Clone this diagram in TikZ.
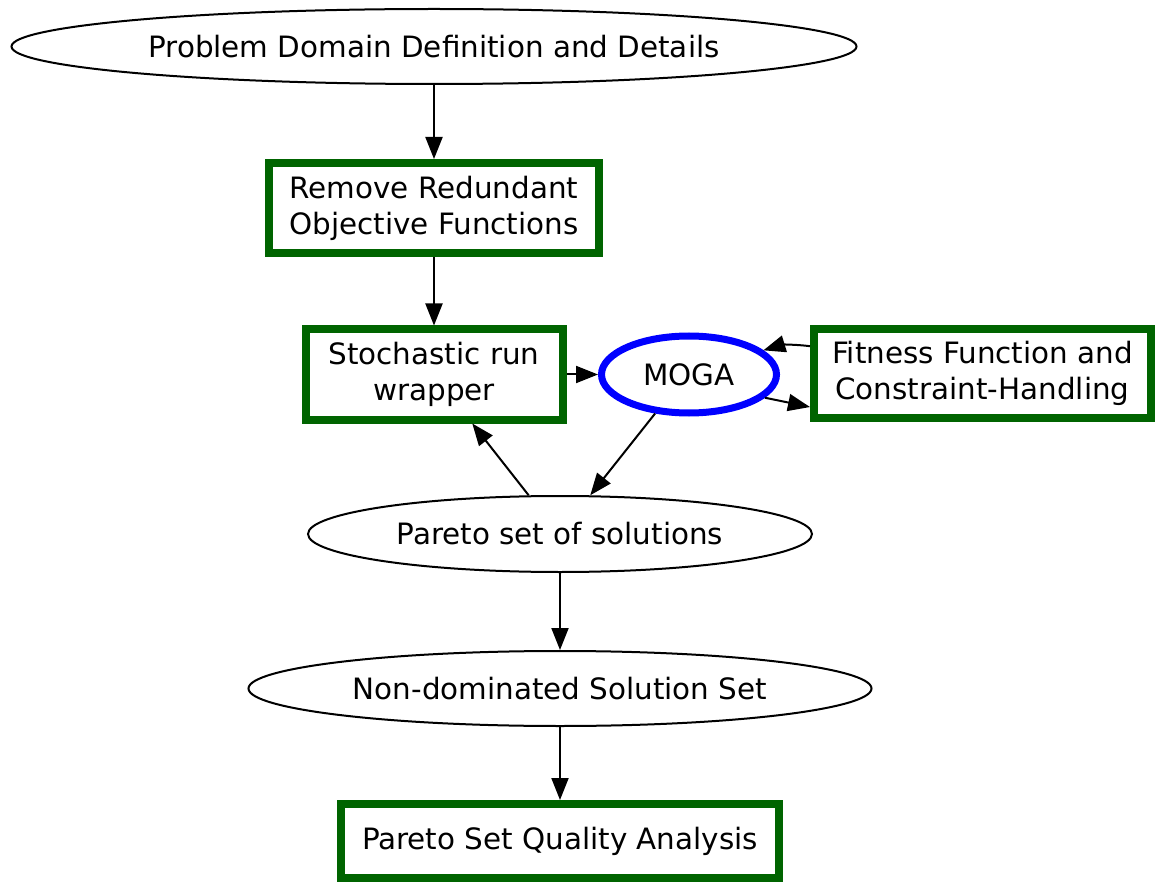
\documentclass[tikz,border=0pt]{standalone}
\usepackage{fontspec}
\setmainfont{DejaVu Sans}
\usetikzlibrary{shapes.geometric,arrows.meta}
\definecolor{vertfonce}{RGB}{0,100,0}

\begin{document}
\begin{tikzpicture}[x=0.5pt,y=-0.5pt,
  font=\fontsize{14.7}{18}\selectfont,
  ovale/.style={ellipse,draw,line width=1pt,inner sep=0pt},
  boite/.style={rectangle,draw=vertfonce,line width=4pt,inner sep=0pt,align=center},
  fleche/.style={-{Triangle[length=11pt,width=8.5pt]},line width=1pt}]

\useasboundingbox (0,0) rectangle (1157,882);

% Noeuds de la chaine principale
\node[ovale,minimum width=422.5pt,minimum height=37.5pt] (domaine) at (434,46.5) {Problem Domain Definition and Details};
\node[boite,minimum width=165pt,minimum height=45pt] (redondant) at (434,208) {Remove Redundant\\Objective Functions};
\node[boite,minimum width=128.5pt,minimum height=45pt] (wrapper) at (434,374.5) {Stochastic run\\wrapper};

% MOGA et fonction de fitness (a droite)
\node[ellipse,draw=blue,line width=3.5pt,inner sep=0pt,minimum width=87.5pt,minimum height=38.5pt] (moga) at (689,374.5) {MOGA};
\node[boite,minimum width=168.5pt,minimum height=44.5pt] (fitness) at (982.5,373.5) {Fitness Function and\\Constraint-Handling};

% Ensembles de solutions
\node[ovale,minimum width=252pt,minimum height=38pt] (pareto) at (560,534) {Pareto set of solutions};
\node[ovale,minimum width=311.5pt,minimum height=37.5pt] (nondom) at (560,688.5) {Non-dominated Solution Set};
\node[boite,minimum width=219pt,minimum height=37pt] (qualite) at (560,841) {Pareto Set Quality Analysis};

% Fleches
\draw[fleche] (domaine) -- (redondant);
\draw[fleche] (redondant) -- (wrapper);
\draw[fleche] (wrapper) -- (moga);
\draw[fleche] (fitness.171) to[bend right=12] (moga.18);
\draw[fleche] (moga.-17) -- (fitness.191);
\draw[fleche] (moga.-131) -- (pareto.52);
\draw[fleche] (pareto.129) -- (wrapper.-52);
\draw[fleche] (pareto) -- (nondom);
\draw[fleche] (nondom) -- (qualite);

\end{tikzpicture}
\end{document}
